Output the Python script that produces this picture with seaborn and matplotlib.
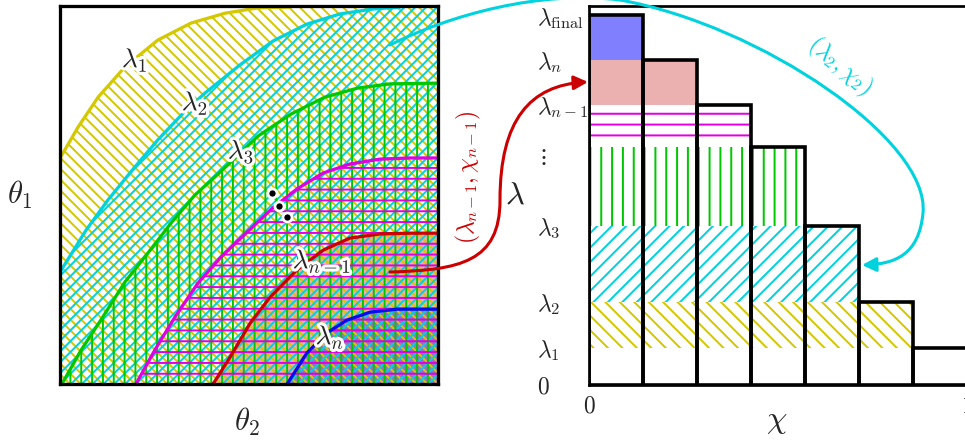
import matplotlib
matplotlib.use("Agg")
import matplotlib.pyplot as plt
import matplotlib.patheffects as pe
import matplotlib.transforms as mtransforms
from matplotlib.path import Path
from matplotlib.patches import FancyArrowPatch
import seaborn as sns

# ---- left panel: level curves in the (theta2, theta1) unit square ----
lam1_t2 = [0.000, 0.008, 0.048, 0.101, 0.172, 0.259, 0.347, 0.437, 0.524, 0.611]
lam1_t1 = [0.598, 0.611, 0.680, 0.759, 0.839, 0.910, 0.955, 0.981, 0.995, 0.997]
lam2_t2 = [0.000, 0.069, 0.127, 0.198, 0.259, 0.331, 0.384, 0.476, 0.563, 0.653, 0.741, 0.828, 0.899]
lam2_t1 = [0.296, 0.407, 0.487, 0.574, 0.646, 0.722, 0.770, 0.844, 0.907, 0.952, 0.979, 0.992, 0.997]
lam3_t2 = [0.005, 0.056, 0.108, 0.172, 0.233, 0.294, 0.357, 0.410, 0.452, 0.524, 0.611, 0.701, 0.788, 0.873, 1.000]
lam3_t1 = [0.000, 0.090, 0.169, 0.270, 0.347, 0.426, 0.500, 0.548, 0.587, 0.656, 0.714, 0.759, 0.783, 0.794, 0.796]
lamn1_prev_t2 = [0.201, 0.251, 0.304, 0.365, 0.426, 0.492, 0.563, 0.627, 0.696, 0.767, 0.847, 0.926, 1.000]
lamn1_prev_t1 = [0.000, 0.090, 0.177, 0.267, 0.336, 0.399, 0.466, 0.516, 0.558, 0.582, 0.595, 0.598, 0.598]
lamn1_t2 = [0.405, 0.450, 0.503, 0.556, 0.627, 0.696, 0.767, 0.847, 0.926, 1.000]
lamn1_t1 = [0.000, 0.071, 0.161, 0.230, 0.302, 0.354, 0.386, 0.397, 0.399, 0.399]
lamn_t2 = [0.601, 0.653, 0.706, 0.759, 0.820, 0.892, 1.000]
lamn_t1 = [0.000, 0.082, 0.135, 0.169, 0.190, 0.198, 0.198]

dots_t2 = [0.561, 0.579, 0.601]
dots_t1 = [0.505, 0.471, 0.442]

# ---- right panel: chi histogram with lambda levels ----
chi_mid = [0.071, 0.214, 0.357, 0.500, 0.643, 0.786, 0.929]
bar_top = [0.976, 0.858, 0.739, 0.628, 0.420, 0.219, 0.098]
lam_ticks = [0.0, 0.098, 0.219, 0.420, 0.607, 0.739, 0.858, 0.976]
lam_labels = [r"$0$", r"$\lambda_1$", r"$\lambda_2$", r"$\lambda_3$", r"$\vdots$",
              r"$\lambda_{n-1}$", r"$\lambda_n$", r"$\lambda_{\mathrm{final}}$"]
band_lo = [0.098, 0.219, 0.420, 0.633, 0.739, 0.858]
band_hi = [0.219, 0.420, 0.628, 0.736, 0.858, 0.976]
band_nbars = [6, 5, 4, 3, 2, 1]

C = {
    "yellow":  "#d4c800",
    "cyan":    "#00d2de",
    "green":   "#00c800",
    "magenta": "#e000e0",
    "red":     "#cc0000",
    "blue":    "#0a0aee",
    "pink":    "#ebb0b0",
    "purple":  "#9c70c4",
    "bluebar": "#8080ff",
}

sns.set_style("white")
plt.rcParams["mathtext.fontset"] = "cm"
plt.rcParams["font.family"] = ["DejaVu Serif"]
plt.rcParams["hatch.linewidth"] = 1.1

W, H, DPI = 965, 443, 130
fig = plt.figure(figsize=(W / DPI, H / DPI), dpi=DPI)
px = mtransforms.Affine2D().scale(1 / W, -1 / H).translate(0, 1) + fig.transFigure
halo = [pe.withStroke(linewidth=3.5, foreground="white")]

# ================= left panel =================
axl = fig.add_axes([60 / W, 1 - 384 / H, 378 / W, 378 / H])
axl.set_xlim(0, 1)
axl.set_ylim(0, 1)

# solid fills first
axl.fill(lamn1_t2 + [1.0, lamn1_t2[0]], lamn1_t1 + [0.0, 0.0],
         facecolor=C["pink"], edgecolor="none", linewidth=0, zorder=1)
axl.fill(lamn_t2 + [1.0, lamn_t2[0]], lamn_t1 + [0.0, 0.0],
         facecolor=C["purple"], edgecolor="none", linewidth=0, zorder=1.1)

# hatched regions below each curve
axl.fill(lam1_t2 + [1.0, 1.0, 0.0], lam1_t1 + [1.0, 0.0, 0.0], facecolor="none",
         edgecolor=C["yellow"], hatch="\\" * 4, linewidth=0, zorder=2)
axl.fill(lam2_t2 + [1.0, 1.0, 0.0], lam2_t1 + [1.0, 0.0, 0.0], facecolor="none",
         edgecolor=C["cyan"], hatch="////", linewidth=0, zorder=2.1)
axl.fill(lam3_t2 + [1.0, lam3_t2[0]], lam3_t1 + [0.0, 0.0], facecolor="none",
         edgecolor=C["green"], hatch="||", linewidth=0, zorder=2.2)
axl.fill(lamn1_prev_t2 + [1.0, lamn1_prev_t2[0]], lamn1_prev_t1 + [0.0, 0.0],
         facecolor="none", edgecolor=C["magenta"], hatch="--", linewidth=0, zorder=2.3)

curves = [(lam1_t2, lam1_t1, "yellow"), (lam2_t2, lam2_t1, "cyan"),
          (lam3_t2, lam3_t1, "green"), (lamn1_prev_t2, lamn1_prev_t1, "magenta"),
          (lamn1_t2, lamn1_t1, "red"), (lamn_t2, lamn_t1, "blue")]
for xs, ys, c in curves:
    sns.lineplot(x=xs, y=ys, ax=axl, color=C[c], linewidth=1.8,
                 sort=False, estimator=None, zorder=3,
                 solid_joinstyle="round", solid_capstyle="round")

axl.plot(dots_t2, dots_t1, "o", color="black", markersize=5,
         markeredgecolor="white", markeredgewidth=1.5, zorder=4)

curve_labels = [(0.198, 0.857, r"$\lambda_1$"), (0.357, 0.743, r"$\lambda_2$"),
                (0.479, 0.614, r"$\lambda_3$"), (0.693, 0.325, r"$\lambda_{n-1}$"),
                (0.714, 0.124, r"$\lambda_n$")]
for x, y, s in curve_labels:
    axl.text(x, y, s, fontsize=15, ha="center", va="center",
             path_effects=halo, zorder=5)

axl.set_xticks([])
axl.set_yticks([])
for sp in axl.spines.values():
    sp.set_color("black")
    sp.set_linewidth(1.8)
    sp.set_zorder(6)

# ================= right panel =================
axr = fig.add_axes([589 / W, 1 - 385 / H, 378 / W, 379 / H])

bar_w = 0.143
colors = ["yellow", "cyan", "green", "magenta", "pink", "bluebar"]
hatches = ["\\" * 3, "///", "||", "--", None, None]
for lo, hi, n, c, h in zip(band_lo, band_hi, band_nbars, colors, hatches):
    if h is None:
        axr.bar(chi_mid[:n], hi - lo, bottom=lo, width=bar_w, color=C[c],
                linewidth=0, zorder=1)
    else:
        axr.bar(chi_mid[:n], hi - lo, bottom=lo, width=bar_w, facecolor="none",
                edgecolor=C[c], hatch=h, linewidth=0, zorder=1)

sns.barplot(x=chi_mid, y=bar_top, ax=axr, native_scale=True, width=1,
            fill=False, color="black", linewidth=2.0, errorbar=None, zorder=3)

axr.set_xlim(0, 1)
axr.set_ylim(0, 1)
axr.set_xlabel("")
axr.set_ylabel("")
axr.set_yticks(lam_ticks, lam_labels)
for lbl in axr.get_yticklabels():
    lbl.set_horizontalalignment("left")
axr.tick_params(axis="y", length=0, pad=29, labelsize=13)
axr.set_xticks([0, 1], [r"$0$", r"$1$"])
axr.tick_params(axis="x", length=0, pad=6, labelsize=13)
for sp in axr.spines.values():
    sp.set_color("black")
    sp.set_linewidth(1.5)
    sp.set_zorder(4)

# ================= axis labels =================
fig.text(20, 195, r"$\theta_1$", transform=px, fontsize=17, ha="center", va="center")
fig.text(247, 422, r"$\theta_2$", transform=px, fontsize=17, ha="center", va="center")
fig.text(515, 195, r"$\lambda$", transform=px, fontsize=18, ha="center", va="center")
fig.text(777, 420, r"$\chi$", transform=px, fontsize=18, ha="center", va="center")

# ================= connecting arrows =================
cyan_path = Path([(390, 45), (450, 15), (540, -10), (620, 0),
                  (760, 25), (930, 140), (923, 213),
                  (919, 255), (895, 264), (862, 265)],
                 [Path.MOVETO] + [Path.CURVE4] * 9)
fig.add_artist(FancyArrowPatch(path=cyan_path, transform=px, arrowstyle="-|>",
                               mutation_scale=16, color=C["cyan"], linewidth=1.7,
                               shrinkA=0, shrinkB=0, zorder=5))
red_path = Path([(390, 272), (460, 270), (500, 262), (500, 200),
                 (500, 120), (530, 85), (588, 82)],
                [Path.MOVETO] + [Path.CURVE4] * 6)
fig.add_artist(FancyArrowPatch(path=red_path, transform=px, arrowstyle="-|>",
                               mutation_scale=16, color=C["red"], linewidth=1.7,
                               shrinkA=0, shrinkB=0, zorder=5))

fig.text(840, 66, r"$(\lambda_2, \chi_2)$", transform=px, fontsize=13,
         color=C["cyan"], rotation=-40, ha="center", va="center",
         rotation_mode="anchor")
fig.text(468, 177, r"$(\lambda_{n-1}, \chi_{n-1})$", transform=px, fontsize=13,
         color=C["red"], rotation=90, ha="center", va="center",
         rotation_mode="anchor")

fig.savefig("out.png", dpi=DPI)
